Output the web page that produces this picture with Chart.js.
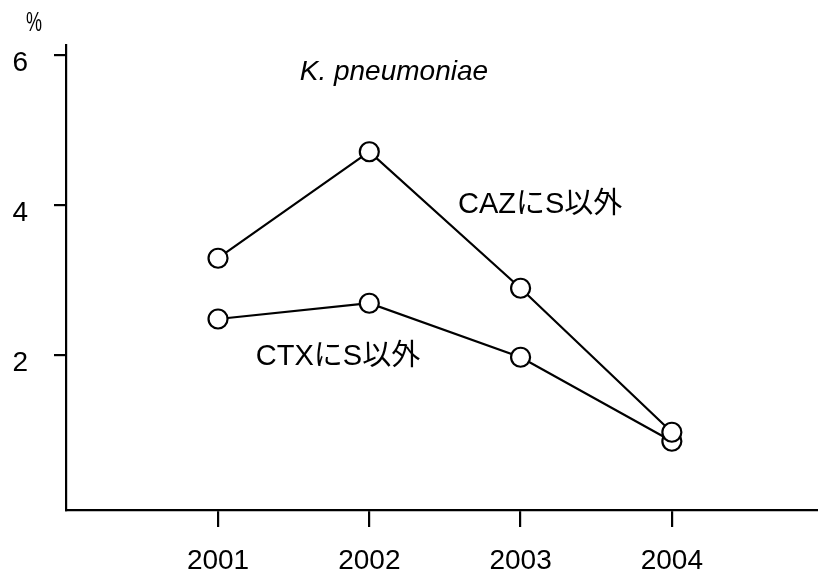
<!DOCTYPE html>
<html>
<head>
<meta charset="utf-8">
<script src="https://cdn.jsdelivr.net/npm/chart.js@4/dist/chart.umd.min.js"></script>
<style>
  html, body { margin: 0; padding: 0; background: #fff; }
  #wrap { width: 818px; height: 575px; }
</style>
</head>
<body>
<div id="wrap"><canvas id="kpChart" width="818" height="575"></canvas></div>
<script>
var years = ["2001", "2002", "2003", "2004"];
var cazValues = [3.29, 4.71, 2.89, 0.97];
var ctxValues = [2.48, 2.69, 1.97, 0.85];
var yTicks = [2, 4, 6];

var FONT = "'Liberation Sans', Arial, 'Noto Sans CJK JP', sans-serif";

function toPoints(vals) {
    var pts = [];
    for (var i in vals) {
        pts.push({ x: Number(i), y: vals[i] });
    }
    return pts;
}

// free text placed in data coordinates
var notes = [
    { text: "K. pneumoniae", x: 0.54, y: 5.77, italic: true, size: 28 },
    { text: "CAZにS以外", x: 1.586, y: 4.0, size: 29 },
    { text: "CTXにS以外", x: 0.25, y: 1.97, size: 29 }
];

var textPlugin = {
    id: 'notes',
    afterDraw: function(chart) {
        var c = chart.ctx;
        var xs = chart.scales.x, ys = chart.scales.y;
        c.save();
        c.fillStyle = '#000';
        c.textBaseline = 'middle';
        c.textAlign = 'left';
        notes.forEach(function(n) {
            c.font = (n.italic ? 'italic ' : '') + n.size + 'px ' + FONT;
            c.fillText(n.text, xs.getPixelForValue(n.x), ys.getPixelForValue(n.y));
        });
        // unit mark, drawn a bit taller than wide like the original
        c.translate(34, 24);
        c.scale(1, 1.5);
        c.font = '18px ' + FONT;
        c.textAlign = 'center';
        c.fillText('%', 0, 0);
        c.restore();
    }
};

var options = {
    type: 'line',
    data: {
        datasets: [{
            label: 'CAZ',
            data: toPoints(cazValues),
            borderColor: '#000',
            borderWidth: 2.2,
            pointRadius: 9.5,
            pointBorderWidth: 2.2,
            pointBackgroundColor: '#fff',
            pointBorderColor: '#000'
        }, {
            label: 'CTX',
            data: toPoints(ctxValues),
            borderColor: '#000',
            borderWidth: 2.2,
            pointRadius: 9.5,
            pointBorderWidth: 2.2,
            pointBackgroundColor: '#fff',
            pointBorderColor: '#000'
        }]
    },
    options: {
        responsive: false,
        animation: false,
        layout: { autoPadding: false, padding: { top: 45, right: 0, left: 0, bottom: 0 } },
        plugins: { legend: { display: false }, tooltip: { enabled: false } },
        scales: {
            x: {
                type: 'linear',
                min: -1.005,
                max: 3.966,
                afterBuildTicks: function(axis) {
                    axis.ticks = years.map(function(y, i) { return { value: i }; });
                },
                afterFit: function(axis) { axis.height = 65; },
                ticks: {
                    color: '#000',
                    padding: 17,
                    font: { family: FONT, size: 28 },
                    callback: function(v) { return years[v]; }
                },
                grid: { drawOnChartArea: false, drawTicks: true, tickLength: 17, color: '#000', lineWidth: 2.2 },
                border: { display: true, color: '#000', width: 2.2 }
            },
            y: {
                type: 'linear',
                min: -0.067,
                max: 6.133,
                afterBuildTicks: function(axis) {
                    axis.ticks = yTicks.map(function(v) { return { value: v }; });
                },
                afterFit: function(axis) { axis.width = 66; },
                ticks: {
                    color: '#000',
                    padding: 26,
                    labelOffset: 8,
                    font: { family: FONT, size: 28 }
                },
                grid: { drawOnChartArea: false, drawTicks: true, tickLength: 12, color: '#000', lineWidth: 2.2 },
                border: { display: true, color: '#000', width: 2.2 }
            }
        }
    },
    plugins: [textPlugin]
};

var kpChart = new Chart(document.getElementById('kpChart'), options);
</script>
</body>
</html>
